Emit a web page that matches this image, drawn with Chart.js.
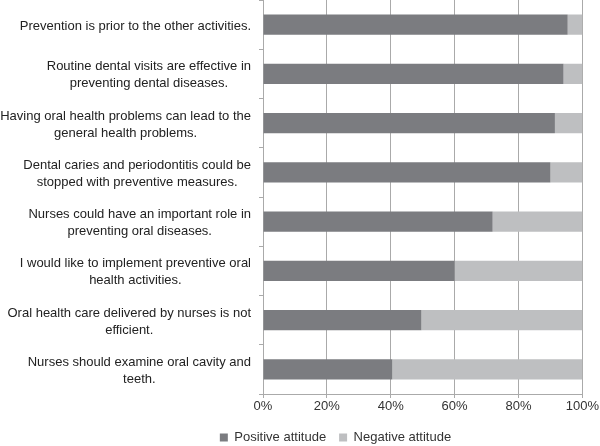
<!DOCTYPE html>
<html>
<head>
<meta charset="utf-8">
<script src="https://cdn.jsdelivr.net/npm/chart.js@4"></script>
<style>
  html, body { margin: 0; padding: 0; background: #ffffff; }
  #wrap { width: 600px; height: 446px; }
</style>
</head>
<body>
<div id="wrap"><canvas id="c" width="600" height="446"></canvas></div>
<script>
const categories = [
  ["Prevention is prior to the other activities."],
  ["Routine dental visits are effective in", "preventing dental diseases."],
  ["Having oral health problems can lead to the", "general health problems."],
  ["Dental caries and periodontitis could be", "stopped with preventive measures."],
  ["Nurses could have an important role in", "preventing oral diseases."],
  ["I would like to implement preventive oral", "health activities."],
  ["Oral health care delivered by nurses is not", "efficient."],
  ["Nurses should examine oral cavity and", "teeth."]
];
const positiveAttitude = [95.4, 94.1, 91.4, 90.0, 71.9, 60.0, 49.6, 40.5];
const negativeAttitude = [4.6, 5.9, 8.6, 10.0, 28.1, 40.0, 50.4, 59.5];
const xTickLabels = ["0%", "20%", "40%", "60%", "80%", "100%"];
const seriesNames = ["Positive attitude", "Negative attitude"];

const FONT = '"Liberation Sans", Arial, Helvetica, sans-serif';

const yLabelPlugin = {
  id: 'yLabelPlugin',
  afterDraw(chart) {
    const ctx = chart.ctx;
    const ys = chart.scales.y;
    ctx.save();
    ctx.font = '13px ' + FONT;
    ctx.fillStyle = '#222222';
    ctx.textAlign = 'center';
    ctx.textBaseline = 'middle';
    const right = chart.chartArea.left - 12;
    const lh = 17;
    categories.forEach((lines, i) => {
      const cy = ys.getPixelForValue(i) + 1.5;
      const w = Math.max(...lines.map(l => ctx.measureText(l).width));
      const cx = right - w / 2;
      lines.forEach((l, j) => {
        ctx.fillText(l, cx, cy + (j - (lines.length - 1) / 2) * lh);
      });
    });
    ctx.restore();
  }
};

new Chart(document.getElementById('c'), {
  type: 'bar',
  data: {
    labels: categories,
    datasets: [
      { label: seriesNames[0], data: positiveAttitude, backgroundColor: '#7b7c80', borderWidth: 0 },
      { label: seriesNames[1], data: negativeAttitude, backgroundColor: '#bebfc1', borderWidth: 0 }
    ]
  },
  options: {
    indexAxis: 'y',
    responsive: false,
    devicePixelRatio: 1,
    animation: false,
    categoryPercentage: 0.5,
    barPercentage: 0.82,
    layout: { padding: { left: 85, right: 14, top: 0, bottom: -8 } },
    scales: {
      x: {
        stacked: true,
        min: 0, max: 100,
        ticks: {
          stepSize: 20,
          color: '#333333',
          font: { family: FONT, size: 13 },
          padding: 1,
          callback: (v, i) => xTickLabels[i]
        },
        grid: { color: '#aaaaaa', lineWidth: 1, tickLength: 4, drawTicks: true },
        border: { color: '#aaaaaa' },
        afterFit(scale) { scale.height = 24; }
      },
      y: {
        stacked: true,
        ticks: { display: false },
        grid: { drawOnChartArea: false, drawTicks: true, tickLength: 4, color: '#aaaaaa', offset: true },
        border: { color: '#aaaaaa' },
        afterFit(scale) { scale.width = 178; }
      }
    },
    plugins: {
      legend: {
        position: 'bottom',
        labels: {
          boxWidth: 8, boxHeight: 8,
          color: '#333333',
          font: { family: FONT, size: 13 },
          padding: 13
        }
      },
      tooltip: { enabled: false }
    }
  },
  plugins: [yLabelPlugin]
});
</script>
</body>
</html>
